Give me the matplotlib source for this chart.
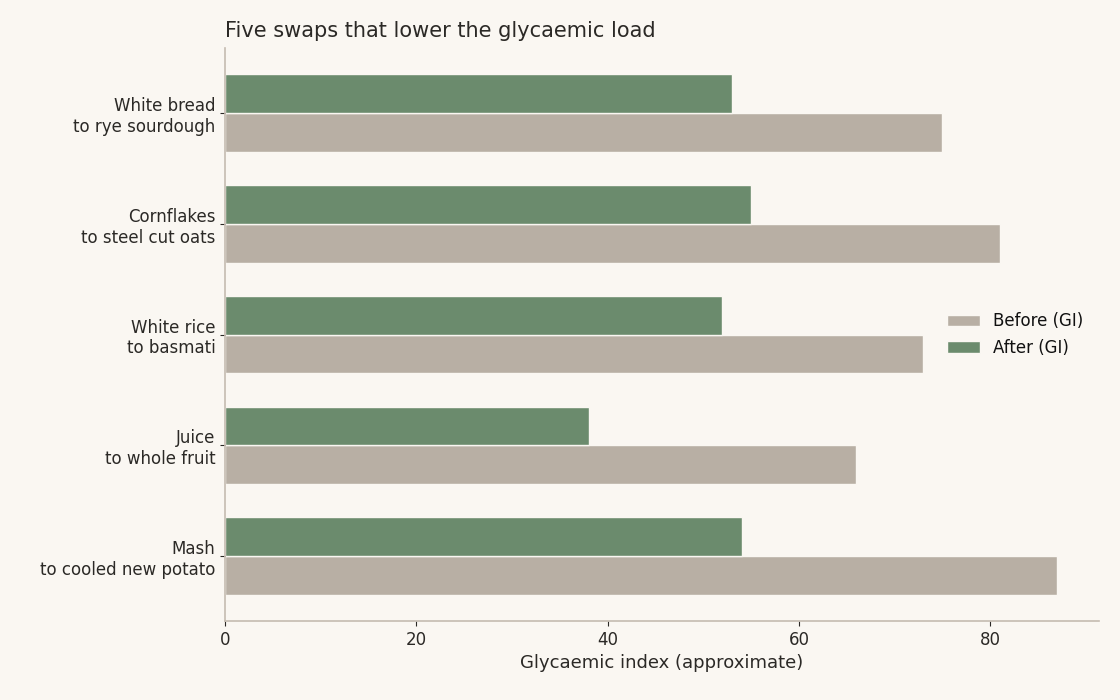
import matplotlib
matplotlib.use("Agg")
import matplotlib.pyplot as plt
import numpy as np

categories = ["White bread\nto rye sourdough", "Cornflakes\nto steel cut oats",
              "White rice\nto basmati", "Juice\nto whole fruit", "Mash\nto cooled new potato"]
before_gi = [75, 81, 73, 66, 87]
after_gi = [53, 55, 52, 38, 54]

BG = "#faf7f2"
TEXT = "#2b2926"
SPINE = "#c5bcb1"
C_BEFORE = "#b8afa4"
C_AFTER = "#6b8b6d"
FAM = "DejaVu Sans"

fig = plt.figure(figsize=(11.2, 7), dpi=100)
fig.patch.set_facecolor(BG)
ax = fig.add_axes([0.201, 0.113, 0.780, 0.818])
ax.set_facecolor(BG)

y = np.arange(len(categories))
h = 0.35
ax.barh(y + h / 2, before_gi, height=h, color=C_BEFORE, edgecolor=BG, linewidth=1, label="Before (GI)")
ax.barh(y - h / 2, after_gi, height=h, color=C_AFTER, edgecolor=BG, linewidth=1, label="After (GI)")

ax.set_yticks(y)
ax.set_yticklabels(categories, color=TEXT, fontsize=12, family=FAM)
ax.invert_yaxis()
ax.set_xlim(0, max(before_gi) * 1.05)
ticks = [0, 20, 40, 60, 80]
ax.set_xticks(ticks)
ax.set_xticklabels([str(t) for t in ticks], color=TEXT, fontsize=12, family=FAM)
ax.set_xlabel("Glycaemic index (approximate)", color=TEXT, fontsize=13, family=FAM)
ax.set_title("Five swaps that lower the glycaemic load", color=TEXT, loc="left", pad=8,
             fontsize=15, family=FAM)
ax.tick_params(axis='x', colors=TEXT)
ax.tick_params(axis='y', colors=TEXT)
for s in ["top", "right"]:
    ax.spines[s].set_visible(False)
for s in ["left", "bottom"]:
    ax.spines[s].set_color(SPINE)
    ax.spines[s].set_linewidth(1.2)

leg = ax.legend(loc="center right", frameon=False, prop={'family': FAM, 'size': 12})
for t in leg.get_texts():
    t.set_color("#111111")

fig.savefig("out.png", dpi=100, facecolor=BG)
